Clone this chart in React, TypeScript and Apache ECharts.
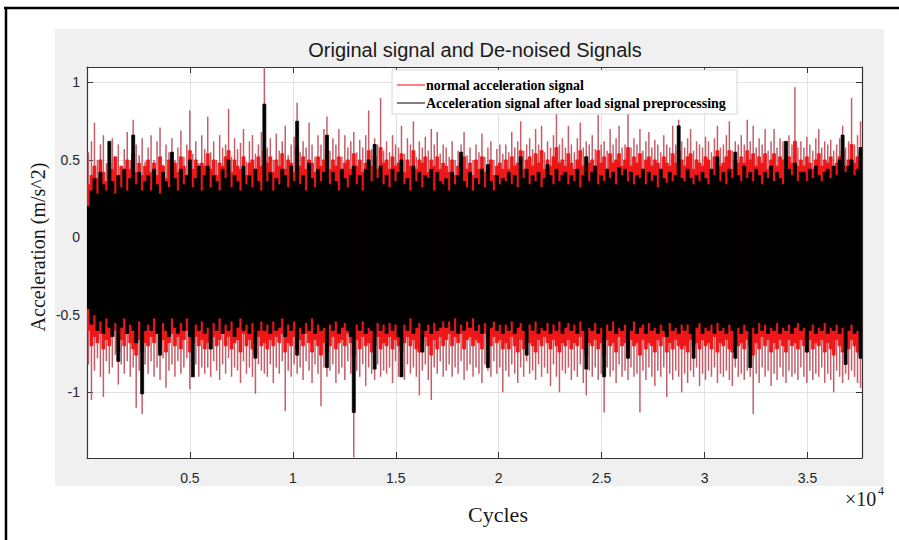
import React, { useEffect, useRef } from "react";
import * as echarts from "echarts";

// ---- axis settings ----
const X_MAX = 37650; // cycles
const Y_MIN = -1.424;
const Y_MAX = 1.1;
const yTickValues = [-1, -0.5, 0, 0.5, 1];

// ---- envelope of the signals, one value per bin (260 bins over the cycles range) ----
// normal acceleration signal: peak tips (thin lines)
const redPeakHigh = [
  .55,.62,.74,.5,.6,.66,.48,.58,.64,.52,.6,.45,.57,.68,.5,.76,.6,.53,.64,.49,
  .58,.66,.5,.62,.71,.47,.6,.55,.64,.5,.58,.69,.52,.6,.82,.54,.62,.48,.66,.57,
  .78,.55,.62,.5,.66,.58,.6,.83,.52,.64,.57,.61,.7,.49,.62,.66,.54,.6,.68,1.1,
  .58,.64,.5,.67,.56,.62,.72,.53,.6,.65,.87,.55,.62,.58,.74,.6,.52,.66,.6,.7,
  .78,.56,.64,.6,.7,.52,.66,.58,.62,.68,.55,.63,.58,.66,.82,.57,.64,.6,.9,.56,
  .62,.55,.66,.6,.58,.72,.54,.64,.6,.75,.52,.62,.58,.65,.56,.7,.6,.68,.54,.6,
  .58,.52,.62,.5,.56,.6,.68,.53,.58,.5,.6,.55,.67,.52,.58,.62,.5,.57,.6,.54,
  .6,.55,.68,.58,.62,.75,.56,.6,.64,.57,.7,.6,.72,.55,.62,.58,.66,.8,.6,.64,
  .58,.72,.6,.55,.64,.74,.58,.62,.6,.66,.57,.79,.6,.62,.56,.7,.6,.64,.72,.58,
  .6,.8,.58,.64,.6,.7,.56,.62,.68,.58,.63,.6,.55,.66,.6,.58,.72,.6,.76,.62,
  .58,.64,.7,.56,.62,.6,.58,.65,.62,.55,.64,.72,.58,.6,.66,.75,.56,.62,.6,.66,
  .6,.76,.62,.72,.58,.64,.6,.7,.56,.62,.7,.58,.64,.62,.56,.66,.6,.97,.58,.62,
  .58,.65,.6,.56,.64,.7,.58,.62,.6,.63,.56,.6,.64,.72,.58,.62,.9,.6,.66,.75,
];
const redPeakLow = [
  -.82,-1.05,-.86,-.78,-.9,-1.03,-.8,-.88,-.84,-.76,-.95,-.82,-.88,-.8,-.9,-.84,-1.1,-.86,-1.14,-.82,
  -.88,-.8,-.9,-.84,-.92,-.78,-.97,-.86,-.82,-.9,-.8,-.88,-.84,-.78,-.98,-.86,-.82,-.9,-.84,-.88,
  -.84,-.9,-.8,-.86,-.92,-.82,-.88,-.78,-.9,-.84,-.86,-.94,-.8,-.88,-.84,-.9,-1.01,-.82,-.86,-.88,
  -.9,-.82,-.94,-.84,-.88,-.8,-1.12,-.86,-.9,-.82,-.88,-.84,-.92,-.8,-.86,-.94,-.82,-.88,-1.09,-.84,
  -.9,-.86,-.82,-.94,-.88,-.84,-.92,-.8,-.88,-1.42,-.86,-.9,-.82,-.96,-.84,-.88,-.92,-.82,-.9,-.86,
  -.88,-.84,-.94,-.8,-.9,-.86,-.92,-.82,-.88,-.84,-.9,-1.02,-.86,-.82,-.92,-1.05,-.84,-.88,-.8,-.9,
  -.86,-.82,-.9,-.84,-.88,-.8,-.92,-.86,-.82,-.9,-.84,-.88,-.94,-.82,-.86,-.9,-.8,-.88,-.84,-1.0,
  -.86,-.9,-.82,-.88,-.94,-.84,-.9,-.8,-.88,-.86,-.92,-.82,-.9,-.84,-.88,-.96,-.82,-.9,-1.0,-.86,
  -.88,-.84,-.92,-.86,-.9,-.82,-.94,-1.02,-.86,-.9,-.84,-.92,-.88,-1.13,-.84,-.9,-.86,-.94,-.82,-.9,
  -.86,-.92,-.84,-.9,-.88,-1.13,-.86,-.92,-.84,-.9,-.96,-.86,-.9,-.84,-1.03,-.88,-.92,-.86,-.9,-1.0,
  -.88,-.94,-.86,-.9,-.84,-.96,-.88,-.92,-.86,-.9,-.84,-.94,-.88,-.9,-.86,-.92,-.96,-.84,-.9,-.88,
  -.92,-.86,-.9,-1.14,-.88,-.94,-.84,-.9,-.86,-.96,-.88,-.92,-.84,-.9,-.94,-.86,-.9,-.88,-.92,-.84,
  -.9,-.94,-.86,-.92,-.88,-.9,-.84,-.94,-.88,-.92,-1.0,-.86,-.9,-.94,-.88,-.92,-.86,-.9,-.94,-.97,
];
// normal acceleration signal: dense band (solid red)
const redBandHigh = [
  .34,.4,.46,.38,.5,.42,.36,.48,.44,.52,.4,.46,.38,.5,.44,.54,.42,.48,.4,.46,
  .5,.42,.48,.4,.52,.46,.38,.5,.44,.48,.42,.52,.46,.4,.56,.44,.5,.42,.48,.46,
  .54,.44,.5,.4,.48,.46,.52,.56,.42,.5,.46,.44,.52,.4,.48,.5,.44,.52,.46,.56,
  .48,.52,.42,.5,.46,.54,.44,.5,.48,.42,.58,.46,.52,.44,.5,.48,.42,.52,.46,.5,
  .56,.44,.5,.46,.52,.42,.48,.5,.44,.54,.46,.5,.42,.48,.56,.46,.52,.44,.58,.48,
  .5,.44,.52,.46,.48,.54,.42,.5,.46,.56,.44,.5,.48,.52,.42,.5,.46,.52,.44,.48,
  .46,.42,.5,.4,.46,.48,.52,.44,.48,.4,.5,.44,.52,.42,.46,.5,.4,.46,.48,.44,
  .5,.44,.52,.46,.48,.56,.44,.5,.52,.46,.54,.48,.56,.44,.5,.46,.52,.58,.48,.5,
  .46,.54,.48,.44,.5,.56,.46,.52,.48,.5,.44,.56,.48,.52,.44,.54,.48,.5,.54,.46,
  .5,.58,.46,.52,.48,.54,.44,.5,.52,.46,.5,.48,.44,.52,.48,.46,.54,.48,.56,.5,
  .46,.52,.54,.44,.5,.48,.46,.52,.5,.44,.52,.56,.46,.48,.52,.56,.44,.5,.48,.52,
  .48,.56,.5,.54,.46,.52,.48,.54,.44,.5,.54,.46,.52,.5,.44,.52,.48,.62,.46,.5,
  .46,.52,.48,.44,.5,.54,.46,.5,.48,.52,.44,.48,.52,.56,.46,.5,.6,.48,.52,.56,
];
const redBandLow = [
  -.6,-.7,-.64,-.68,-.62,-.72,-.66,-.7,-.64,-.6,-.74,-.66,-.7,-.62,-.68,-.72,-.76,-.66,-.74,-.68,
  -.7,-.64,-.68,-.62,-.72,-.66,-.74,-.68,-.62,-.7,-.64,-.72,-.66,-.6,-.74,-.68,-.64,-.7,-.66,-.72,
  -.68,-.72,-.64,-.7,-.66,-.62,-.7,-.64,-.72,-.68,-.66,-.74,-.62,-.7,-.66,-.72,-.76,-.64,-.7,-.68,
  -.72,-.66,-.7,-.64,-.68,-.62,-.74,-.68,-.7,-.64,-.72,-.66,-.7,-.62,-.68,-.74,-.66,-.7,-.76,-.68,
  -.74,-.7,-.64,-.72,-.68,-.66,-.7,-.62,-.68,-.76,-.66,-.72,-.64,-.7,-.68,-.74,-.7,-.64,-.72,-.68,
  -.7,-.64,-.72,-.66,-.7,-.74,-.68,-.64,-.7,-.66,-.72,-.74,-.68,-.64,-.7,-.76,-.66,-.72,-.64,-.7,
  -.66,-.62,-.7,-.64,-.68,-.62,-.72,-.66,-.64,-.7,-.66,-.68,-.72,-.62,-.66,-.7,-.64,-.68,-.66,-.72,
  -.68,-.72,-.64,-.7,-.74,-.66,-.72,-.62,-.68,-.7,-.74,-.66,-.7,-.64,-.68,-.72,-.66,-.7,-.74,-.68,
  -.7,-.66,-.72,-.68,-.7,-.64,-.72,-.76,-.68,-.7,-.66,-.72,-.68,-.76,-.66,-.7,-.68,-.74,-.64,-.7,
  -.68,-.72,-.66,-.7,-.68,-.76,-.66,-.72,-.68,-.7,-.74,-.66,-.7,-.64,-.74,-.68,-.72,-.66,-.7,-.72,
  -.7,-.74,-.66,-.7,-.68,-.72,-.66,-.7,-.68,-.72,-.64,-.74,-.68,-.7,-.66,-.72,-.74,-.66,-.7,-.68,
  -.72,-.66,-.7,-.76,-.68,-.72,-.64,-.7,-.66,-.74,-.68,-.72,-.66,-.7,-.74,-.66,-.7,-.68,-.72,-.66,
  -.7,-.74,-.66,-.72,-.68,-.7,-.66,-.74,-.68,-.72,-.76,-.66,-.7,-.74,-.68,-.72,-.66,-.7,-.74,-.76,
];
// signal after load signal preprocessing (black)
const blackHigh = [
  .2,.3,.38,.28,.42,.34,.3,.62,.36,.28,.4,.32,.44,.3,.38,.66,.34,.42,.3,.36,
  .4,.3,.44,.34,.28,.42,.36,.32,.55,.38,.3,.44,.34,.4,.5,.32,.38,.46,.3,.4,
  .46,.32,.4,.36,.3,.44,.38,.5,.32,.4,.36,.3,.46,.34,.4,.32,.44,.36,.3,.86,
  .36,.42,.3,.38,.34,.44,.4,.32,.46,.36,.75,.34,.4,.3,.48,.38,.32,.44,.36,.42,
  .66,.34,.42,.36,.3,.44,.38,.32,.4,.46,.34,.4,.3,.44,.5,.36,.6,.38,.46,.34,
  .4,.32,.44,.36,.42,.5,.34,.38,.3,.46,.36,.42,.32,.4,.38,.44,.3,.42,.36,.34,
  .38,.3,.42,.34,.4,.55,.36,.32,.42,.3,.38,.34,.44,.32,.47,.36,.3,.4,.34,.38,
  .36,.42,.34,.4,.32,.52,.38,.44,.34,.4,.36,.42,.32,.38,.47,.4,.34,.44,.36,.4,
  .42,.34,.4,.36,.44,.32,.4,.52,.36,.42,.46,.34,.4,.36,.44,.38,.42,.34,.45,.4,
  .44,.36,.42,.34,.4,.38,.44,.34,.42,.36,.4,.32,.44,.38,.35,.42,.36,.4,.72,.38,
  .36,.44,.38,.34,.4,.36,.42,.38,.34,.44,.4,.52,.36,.42,.34,.44,.38,.55,.4,.36,
  .46,.38,.42,.36,.44,.4,.34,.42,.38,.46,.36,.42,.38,.34,.62,.44,.4,.48,.36,.42,
  .42,.36,.44,.38,.46,.4,.36,.42,.44,.38,.46,.4,.5,.66,.42,.46,.5,.4,.44,.58,
];
const blackLow = [
  -.46,-.56,-.5,-.6,-.54,-.62,-.52,-.58,-.64,-.55,-.8,-.58,-.52,-.62,-.56,-.6,-.68,-.54,-1.01,-.6,
  -.56,-.6,-.52,-.62,-.76,-.55,-.6,-.64,-.52,-.58,-.62,-.55,-.6,-.52,-.64,-.9,-.56,-.6,-.54,-.62,
  -.58,-.72,-.55,-.6,-.52,-.62,-.56,-.6,-.54,-.64,-.58,-.52,-.6,-.56,-.62,-.55,-.78,-.6,-.54,-.6,
  -.56,-.62,-.54,-.6,-.58,-.52,-.64,-.56,-.6,-.54,-.76,-.58,-.62,-.55,-.6,-.52,-.62,-.56,-.6,-.58,
  -.84,-.56,-.6,-.54,-.62,-.58,-.55,-.6,-.64,-1.13,-.56,-.6,-.54,-.62,-.58,-.6,-.85,-.55,-.6,-.56,
  -.62,-.55,-.6,-.56,-.64,-.9,-.56,-.6,-.52,-.62,-.58,-.55,-.74,-.6,-.56,-.62,-.55,-.6,-.58,-.54,
  -.58,-.54,-.6,-.52,-.62,-.56,-.6,-.54,-.58,-.52,-.6,-.56,-.62,-.55,-.84,-.58,-.54,-.6,-.56,-.62,
  -.56,-.6,-.54,-.62,-.58,-.55,-.6,-.76,-.56,-.6,-.54,-.62,-.58,-.6,-.55,-.62,-.56,-.6,-.54,-.62,
  -.58,-.55,-.6,-.56,-.62,-.54,-.6,-.85,-.58,-.6,-.55,-.62,-.58,-.9,-.56,-.6,-.54,-.62,-.58,-.6,
  -.56,-.78,-.6,-.54,-.62,-.58,-.56,-.62,-.55,-.6,-.58,-.62,-.56,-.6,-.64,-.55,-.6,-.58,-.62,-.56,
  -.6,-.56,-.62,-.78,-.58,-.55,-.62,-.58,-.6,-.56,-.62,-.55,-.6,-.58,-.62,-.56,-.6,-.78,-.58,-.62,
  -.56,-.6,-.84,-.58,-.62,-.55,-.6,-.56,-.62,-.58,-.6,-.55,-.62,-.58,-.6,-.56,-.62,-.58,-.55,-.6,
  -.58,-.74,-.6,-.56,-.62,-.58,-.6,-.55,-.62,-.58,-.6,-.56,-.62,-.58,-.82,-.6,-.56,-.62,-.6,-.78,
];

const seriesNames = [
  "normal acceleration signal",
  "Acceleration signal after load signal preprocessing",
];

const N = Math.min(
  redPeakHigh.length,
  redPeakLow.length,
  redBandHigh.length,
  redBandLow.length,
  blackHigh.length,
  blackLow.length
);
const BIN = X_MAX / N;
const redData: number[][] = [];
const blackData: number[][] = [];
for (let i = 0; i < N; i++) {
  redData.push([(i + 0.5) * BIN, redPeakLow[i], redPeakHigh[i], redBandLow[i], redBandHigh[i]]);
  blackData.push([(i + 0.5) * BIN, blackLow[i], blackHigh[i]]);
}

const SANS = "'Liberation Sans', Arial, Helvetica, sans-serif";
const SERIF = "'Liberation Serif', 'Times New Roman', serif";
const AXIS_COLOR = "#333333";
const GRID_COLOR = "#e1e1e1";

export default function App() {
  const ref = useRef<HTMLDivElement>(null);

  useEffect(() => {
    if (!ref.current) return;
    const chart = echarts.init(ref.current, undefined, { renderer: "svg" });

    const xLabelFmt = (v: number) =>
      v > 0 && v % 5000 === 0 && v <= 35000 ? String(v / 10000) : "";

    const baseX = {
      type: "value",
      min: 0,
      max: X_MAX,
      interval: 5000,
      axisLine: { show: true, onZero: false, lineStyle: { color: AXIS_COLOR, width: 1.2 } },
      axisTick: { show: true, inside: true, length: 6, lineStyle: { color: AXIS_COLOR } },
      splitLine: { show: true, lineStyle: { color: GRID_COLOR, width: 1 } },
    };
    const baseY = {
      type: "value",
      min: Y_MIN,
      max: Y_MAX,
      axisLine: { show: true, onZero: false, lineStyle: { color: AXIS_COLOR, width: 1.2 } },
      axisTick: {
        show: true,
        inside: true,
        length: 6,
        customValues: yTickValues,
        lineStyle: { color: AXIS_COLOR },
      },
      splitLine: { show: true, lineStyle: { color: GRID_COLOR, width: 1 } },
    };

    chart.setOption({
      animation: false,
      backgroundColor: "#ffffff",
      grid: {
        left: 87,
        top: 67,
        width: 775,
        height: 391,
        show: true,
        backgroundColor: "#ffffff",
        borderWidth: 0,
      },
      xAxis: [
        {
          ...baseX,
          position: "bottom",
          axisLabel: {
            show: true,
            formatter: xLabelFmt,
            margin: 13,
            color: "#262626",
            fontSize: 14,
            fontFamily: SANS,
            showMaxLabel: false,
          },
        },
        {
          ...baseX,
          position: "top",
          axisLabel: { show: false },
          splitLine: { show: false },
        },
      ],
      yAxis: [
        {
          ...baseY,
          position: "left",
          axisLabel: {
            show: true,
            customValues: yTickValues,
            formatter: (v: number) => String(v),
            margin: 7,
            color: "#262626",
            fontSize: 14,
            fontFamily: SANS,
          },
        },
        {
          ...baseY,
          position: "right",
          axisLabel: { show: false },
          splitLine: { show: false },
        },
      ],
      series: [
        {
          name: seriesNames[0],
          type: "custom",
          xAxisIndex: 0,
          yAxisIndex: 0,
          clip: true,
          z: 2,
          encode: { x: 0, y: [1, 2] },
          data: redData,
          renderItem: (params: any, api: any) => {
            const x = api.value(0);
            const tTop = api.coord([x, api.value(2)]);
            const tBot = api.coord([x, api.value(1)]);
            const bTL = api.coord([x - BIN / 2, api.value(4)]);
            const bBR = api.coord([x + BIN / 2, api.value(3)]);
            return {
              type: "group",
              children: [
                {
                  type: "line",
                  shape: { x1: tTop[0], y1: tTop[1], x2: tBot[0], y2: tBot[1] },
                  style: { stroke: "#c45f6a", lineWidth: 1.5 },
                },
                {
                  type: "rect",
                  shape: {
                    x: bTL[0],
                    y: bTL[1],
                    width: bBR[0] - bTL[0],
                    height: bBR[1] - bTL[1],
                  },
                  style: { fill: "#ee1616", stroke: "#ee1616", lineWidth: 0.8 },
                },
              ],
            };
          },
        },
        {
          name: seriesNames[1],
          type: "custom",
          xAxisIndex: 0,
          yAxisIndex: 0,
          clip: true,
          z: 3,
          encode: { x: 0, y: [1, 2] },
          data: blackData,
          renderItem: (params: any, api: any) => {
            const x = api.value(0);
            const tl = api.coord([x - BIN / 2, api.value(2)]);
            const br = api.coord([x + BIN / 2, api.value(1)]);
            return {
              type: "rect",
              shape: {
                x: tl[0],
                y: tl[1],
                width: br[0] - tl[0],
                height: br[1] - tl[1],
              },
              style: { fill: "#000000", stroke: "#000000", lineWidth: 0.8 },
            };
          },
        },
      ],
      graphic: [
        // outer frame of the picture
        {
          type: "line",
          z: -20,
          shape: { x1: 4, y1: 8, x2: 899, y2: 8 },
          style: { stroke: "#000", lineWidth: 2.5 },
        },
        {
          type: "line",
          z: -20,
          shape: { x1: 6, y1: 7, x2: 6, y2: 540 },
          style: { stroke: "#000", lineWidth: 2.5 },
        },
        // figure background
        {
          type: "rect",
          z: -10,
          shape: { x: 55, y: 29, width: 829, height: 457 },
          style: { fill: "#f0f0f0" },
        },
        // title
        {
          type: "text",
          z: 10,
          x: 475,
          y: 50,
          style: {
            text: "Original signal and De-noised Signals",
            fill: "#1a1a1a",
            font: `20px ${SANS}`,
            textAlign: "center",
            textVerticalAlign: "middle",
          },
        },
        // y axis name
        {
          type: "text",
          z: 10,
          x: 38,
          y: 247,
          rotation: Math.PI / 2,
          style: {
            text: "Acceleration (m/s^2)",
            fill: "#1a1a1a",
            font: `20px ${SERIF}`,
            textAlign: "center",
            textVerticalAlign: "middle",
          },
        },
        // x axis name
        {
          type: "text",
          z: 10,
          x: 498,
          y: 514,
          style: {
            text: "Cycles",
            fill: "#1a1a1a",
            font: `22px ${SERIF}`,
            textAlign: "center",
            textVerticalAlign: "middle",
          },
        },
        // exponent
        {
          type: "text",
          z: 10,
          x: 845,
          y: 499,
          style: {
            text: "×10",
            fill: "#1a1a1a",
            font: `20px ${SERIF}`,
            textAlign: "left",
            textVerticalAlign: "middle",
          },
        },
        {
          type: "text",
          z: 10,
          x: 878,
          y: 491,
          style: {
            text: "4",
            fill: "#1a1a1a",
            font: `12px ${SERIF}`,
            textAlign: "left",
            textVerticalAlign: "middle",
          },
        },
        // legend
        {
          type: "rect",
          z: 50,
          shape: { x: 392, y: 70, width: 345, height: 44 },
          style: { fill: "#ffffff", stroke: "#d6d6d6", lineWidth: 1 },
        },
        {
          type: "line",
          z: 51,
          shape: { x1: 397, y1: 85, x2: 425, y2: 85 },
          style: { stroke: "#ff0000", lineWidth: 1 },
        },
        {
          type: "text",
          z: 51,
          x: 426,
          y: 85,
          style: {
            text: seriesNames[0],
            fill: "#000",
            font: `bold 14px ${SERIF}`,
            textAlign: "left",
            textVerticalAlign: "middle",
          },
        },
        {
          type: "line",
          z: 51,
          shape: { x1: 397, y1: 103, x2: 425, y2: 103 },
          style: { stroke: "#000000", lineWidth: 1 },
        },
        {
          type: "text",
          z: 51,
          x: 426,
          y: 103,
          style: {
            text: seriesNames[1],
            fill: "#000",
            font: `bold 14px ${SERIF}`,
            textAlign: "left",
            textVerticalAlign: "middle",
          },
        },
      ],
    });

    return () => chart.dispose();
  }, []);

  return (
    <div
      ref={ref}
      style={{ position: "fixed", left: 0, top: 0, width: 899, height: 540 }}
    />
  );
}
